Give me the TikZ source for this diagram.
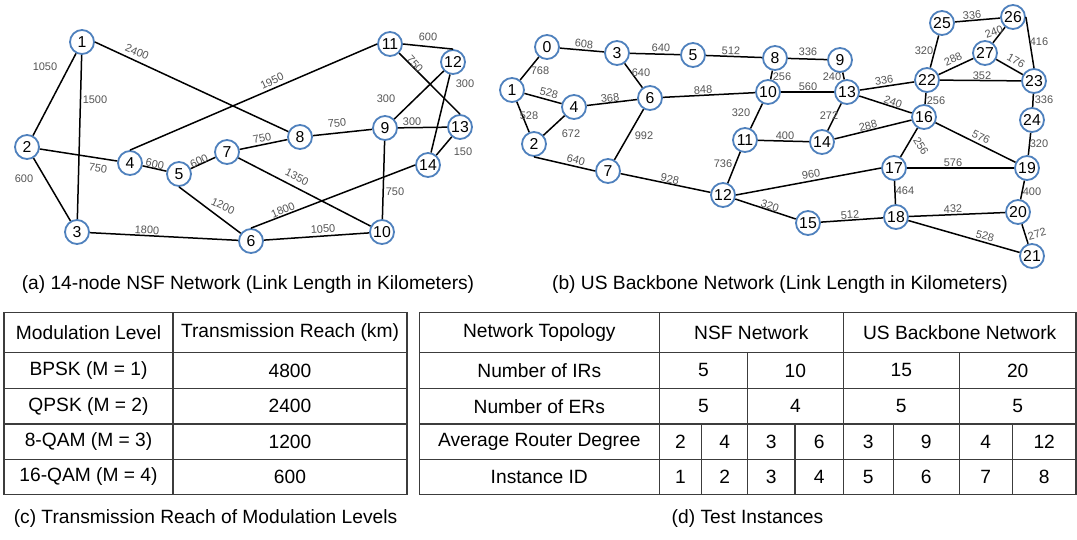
\documentclass[tikz,border=0pt]{standalone}
\usepackage{fontspec}
\setmainfont{Liberation Sans}
\definecolor{nodeblue}{RGB}{79,129,189}
\definecolor{lblgray}{RGB}{85,85,85}
\definecolor{gridgray}{RGB}{60,60,60}
\begin{document}
\begin{tikzpicture}[x=1pt,y=-1pt,
  vtx/.style={circle,draw=nodeblue,line width=1.8pt,fill=white,minimum size=24pt,inner sep=0pt,font=\fontsize{15.8}{16}\selectfont},
  link/.style={line width=1.5pt,black},
  lbl/.style={text=lblgray,font=\fontsize{11}{12}\selectfont,inner sep=0pt},
  capt/.style={font=\fontsize{19.2}{21}\selectfont,inner sep=0pt},
  cell/.style={font=\fontsize{19.2}{21}\selectfont,inner sep=0pt},
  tblline/.style={line width=1.3pt,draw=gridgray}]
\useasboundingbox[fill=white] (0,0) rectangle (1077,539);

% ---------------- (a) NSF network ----------------
\foreach \n/\x/\y in {1/82/42,2/27/147,3/77/232,4/130/163,5/179/174,6/251/241,7/227/152,
  8/300/137,9/385/128,10/382/232,11/390/44,12/453/62,13/460/127,14/428/165}
  \node[vtx] (n\n) at (\x,\y) {\n};
% links between node centres
\foreach \a/\b in {1/2,1/3,2/3,2/4,3/6,4/5,5/7,7/8,7/10,8/9,9/12,9/13,9/10,
  12/14,13/14,6/10}
  \draw[link] (n\a) -- (n\b);
% links glued to particular connection points
\draw[link] (n1.east) -- (n8);
\draw[link] (n4.north) -- (n11.west);
\draw[link] (n5.south) -- (n6);
\draw[link] (n6.north) -- (n14.west);
\draw[link] (n11.east) -- (n12.north);
\draw[link] (n11) -- (n13.north);
\foreach \x/\y/\r/\t [count=\i] in {45/67/0/1050,95/100/0/1500,137/52/-23/2400,24/179/0/600,
  98/168/-9/750,147/230/-3/1800,155/164/-12/600,272/81/25/1950,199/161/25/600,223/206/-25/1200,
  262/138/12/750,297/177/-27/1350,337/123/6/750,386/99/0/300,412/122/1/300,395/192/0/750,
  428/37/-4/600,415/64/-48/750,465/84/0/300,463/152/0/150,283/210/23/1800,323/229/4/1050}
  \node[lbl,rotate=\r] (na\i) at (\x,\y) {\t};
\node[capt] (capa) at (248,285) {(a) 14-node NSF Network (Link Length in Kilometers)};

% ---------------- (b) US backbone network ----------------
\foreach \n/\x/\y in {0/547/47,1/512/90,2/534/144,3/617/53,4/574/107,5/693/55,6/650/98,
  7/608/171,8/775/58,9/840/60,10/768/92,11/745/140,12/723/195,13/847/92,14/822/142,
  15/808/223,16/924/117,17/894/168,18/896/217,19/1027/168,20/1018/212,21/1032/256,
  22/927/80,23/1034/81,24/1032/120,25/942/23,26/1013/17,27/985/53}
  \node[vtx] (u\n) at (\x,\y) {\n};
\foreach \a/\b in {0/1,0/3,1/4,1/2,2/4,3/5,3/6,4/6,6/10,6/7,7/12,5/8,8/9,8/10,9/13,
  10/13,10/11,11/14,11/12,13/14,13/22,13/16,14/16,22/16,22/25,22/27,25/26,26/27,
  27/23,22/23,23/24,16/19,16/17,24/19,17/19,17/18,19/20,12/15,15/18,18/20,18/21,20/21}
  \draw[link] (u\a) -- (u\b);
\draw[link] (u2.south) -- (u7.west);
\draw[link] (u26.east) -- (u23.north);
\draw[link] (u12.east) -- (u17.west);
\foreach \x/\y/\r/\t [count=\i] in {540/71/0/768,584/44/-5/608,549/93/-15/528,529/116/0/528,
  571/134/0/672,576/160/-15/640,661/48/-2/640,641/73/0/640,610/98/7/368,703/90/3/848,
  644/136/0/992,670/179/-12/928,731/51/-2/512,808/52/-2/336,782/77/0/256,832/77/0/240,
  808/87/0/560,741/113/0/320,785/136/0/400,723/164/0/736,829/116/0/272,884/80/9/336,
  893/102/-20/240,868/126/14/288,936/101/0/256,924/51/0/320,953/59/25/288,972/15/5/336,
  994/32/20/240,1039/42/0/416,1016/61/-30/176,982/76/0/352,1044/100/0/336,981/137/-26/576,
  921/146/-58/256,1039/144/0/320,953/163/0/576,811/174/9/960,905/191/0/464,1032/192/0/400,
  770/206/-18/320,850/215/4/512,953/209/2/432,985/236/-16/528,1037/234/15/272}
  \node[lbl,rotate=\r] (ua\i) at (\x,\y) {\t};
\node[capt] (capb) at (780,285) {(b) US Backbone Network (Link Length in Kilometers)};

% ---------------- (c) modulation table ----------------
\draw[tblline] (4,312.5) rectangle (407,494.5);
\draw[tblline] (173,312.5) -- (173,494.5);
\foreach \y in {352.5,388.3,424,459.3} \draw[tblline] (4,\y) -- (407,\y);
\foreach \y/\m/\r [count=\i] in {332.5/Modulation Level/Transmission Reach (km),
  370.4/BPSK (M = 1)/4800,406.2/QPSK (M = 2)/2400,441.7/8-QAM (M = 3)/1200,
  476.9/16-QAM (M = 4)/600}{
  \node[cell] (cm\i) at (88.5,\y) {\m};
  \node[cell] (cr\i) at (290,\y) {\r};
}
\node[capt] (capc) at (205.5,519) {(c) Transmission Reach of Modulation Levels};

% ---------------- (d) test instance table ----------------
\draw[tblline] (419.3,312.5) rectangle (1076,494.5);
\foreach \y in {352.5,388.3,424,459.3} \draw[tblline] (419.3,\y) -- (1076,\y);
\foreach \x in {659.3,843.3} \draw[tblline] (\x,312.5) -- (\x,494.5);
\foreach \x in {747.5,959.3} \draw[tblline] (\x,352.5) -- (\x,494.5);
\foreach \x in {701.7,795,893.3,1012.3} \draw[tblline] (\x,424) -- (\x,494.5);
\node[cell] (dh0) at (539.3,332.5) {Network Topology};
\node[cell] (dh1) at (751.3,332.5) {NSF Network};
\node[cell] (dh2) at (959.7,332.5) {US Backbone Network};
\node[cell] (dr1) at (539.3,370.4) {Number of IRs};
\node[cell] (dr2) at (539.3,406.2) {Number of ERs};
\node[cell] (dr3) at (539.3,441.7) {Average Router Degree};
\node[cell] (dr4) at (539.3,476.9) {Instance ID};
\foreach \x/\a/\b [count=\i] in {703.4/5/5,795.4/10/4,901.3/15/5,1017.7/20/5}{
  \node[cell] (dir\i) at (\x,370.4) {\a};
  \node[cell] (der\i) at (\x,406.2) {\b};
}
\foreach \x/\a/\b [count=\i] in {680.5/2/1,724.6/4/2,771.3/3/3,819.2/6/4,868.3/3/5,
  926.3/9/6,985.8/4/7,1044.2/12/8}{
  \node[cell] (dg\i) at (\x,441.7) {\a};
  \node[cell] (did\i) at (\x,476.9) {\b};
}
\node[capt] (capd) at (747.5,519) {(d) Test Instances};
\end{tikzpicture}
\end{document}
